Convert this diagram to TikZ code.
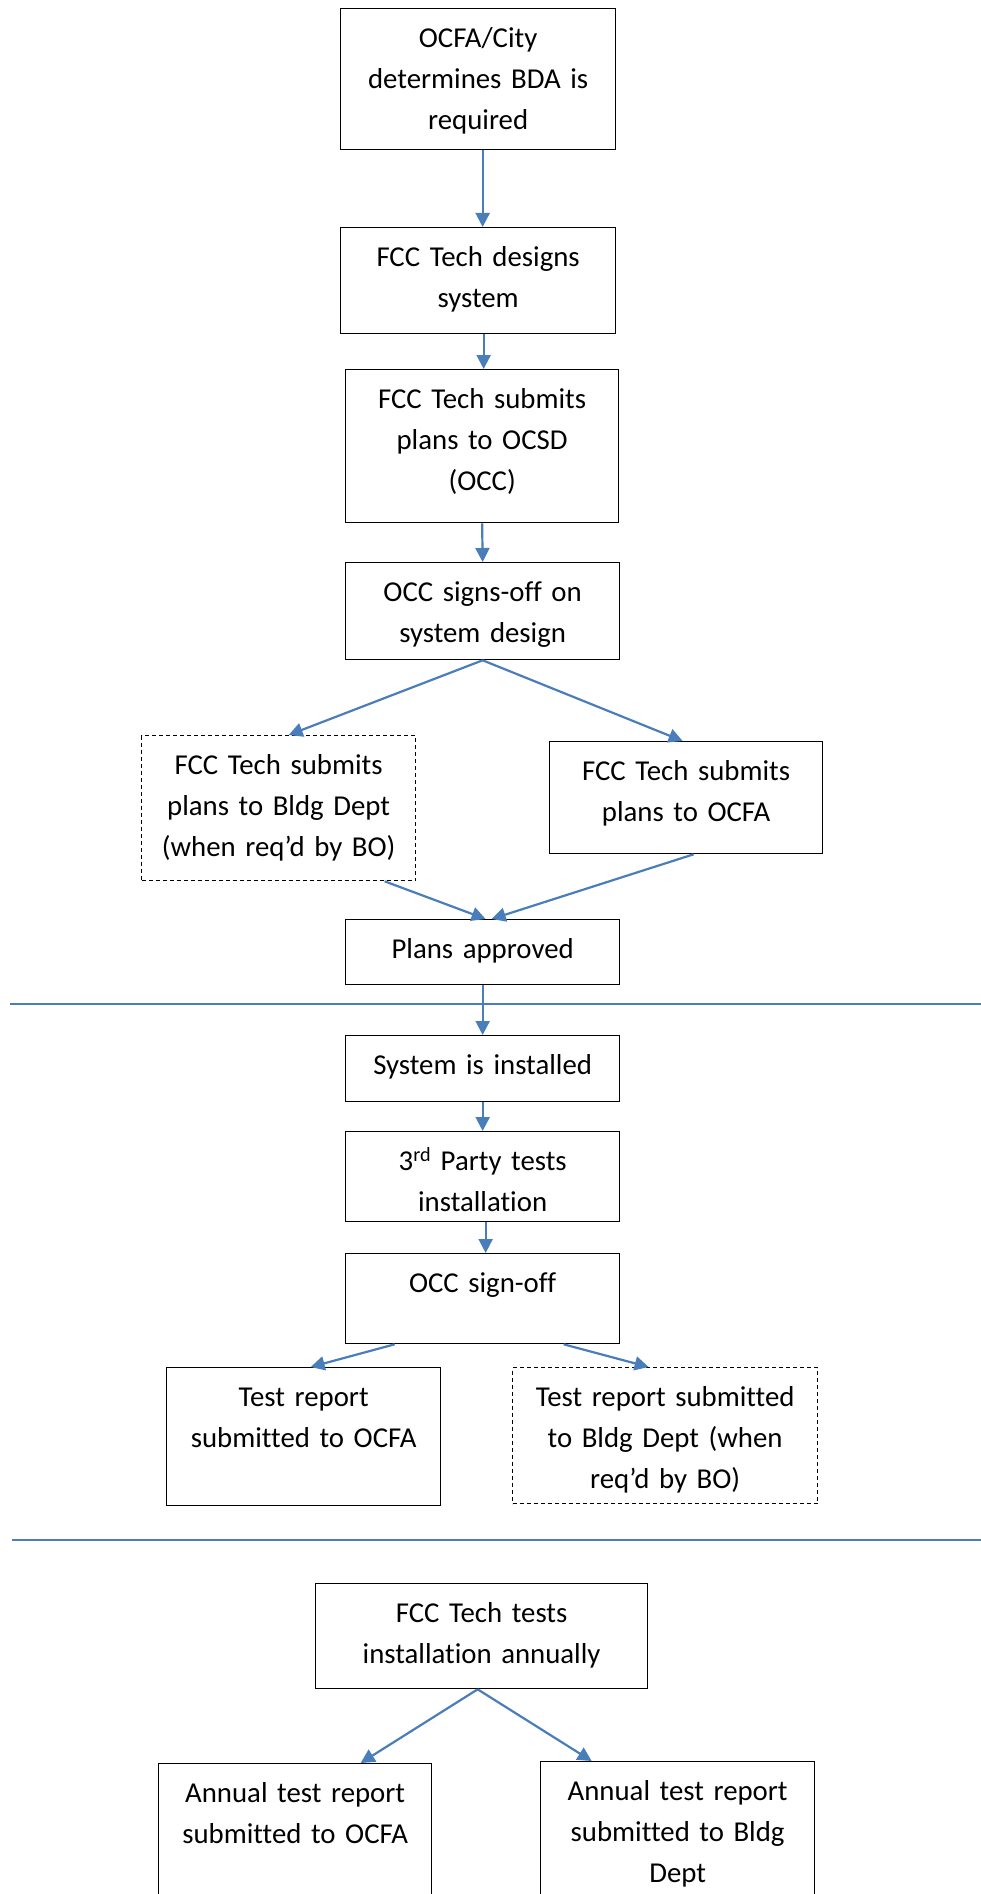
\documentclass[tikz,border=0pt]{standalone}
\usepackage{fontspec}
\newfontfamily\boxfont[Ligatures=NoCommon]{Carlito}
\usetikzlibrary{arrows.meta}
\definecolor{flowblue}{RGB}{74,126,187}
\begin{document}
\begin{tikzpicture}[x=1pt,y=-1pt,
  stage/.style={draw,line width=1.3pt,anchor=north west,inner xsep=0pt,
    inner ysep=0pt,align=center,text height=39pt,
    font={\boxfont\fontsize{28.8}{41}\selectfont}},
  optional/.style={stage,dash pattern=on 4pt off 3pt},
  flow/.style={draw=flowblue,line width=2.2pt,
    -{Triangle[length=14pt,width=14pt]}},
  divider/.style={draw=flowblue,line width=2.2pt}]
\useasboundingbox (0,0) rectangle (981,1894);
\clip (0,0) rectangle (981,1894);

\node[stage,text width=275pt,text depth=102pt] (b1) at (340,8)
  {OCFA/City\\determines BDA is\\required};
\node[stage,text width=275pt,text depth=67pt] (b2) at (340,227)
  {FCC Tech designs\\system};
\node[stage,text width=273pt,text depth=114pt] (b3) at (345,369)
  {FCC Tech submits\\plans to OCSD\\(OCC)};
\node[stage,text width=274pt,text depth=58pt] (b4) at (345,562)
  {OCC signs-off on\\system design};
\node[optional,text width=274pt,text depth=106pt] (b5) at (141,735)
  {FCC Tech submits\\plans to Bldg Dept\\(when req’d by BO)};
\node[stage,text width=273pt,text depth=73pt] (b6) at (549,741)
  {FCC Tech submits\\plans to OCFA};
\node[stage,text width=274pt,text depth=26pt] (b7) at (345,919)
  {Plans approved};
\node[stage,text width=274pt,text depth=27pt] (b8) at (345,1035)
  {System is installed};
\node[stage,text width=274pt,text depth=51pt] (b9) at (345,1131)
  {3\textsuperscript{rd} Party tests\\installation};
\node[stage,text width=274pt,text depth=51pt] (b10) at (345,1253)
  {OCC sign-off};
\node[stage,text width=274pt,text depth=99pt] (b11) at (166,1367)
  {Test report\\submitted to OCFA};
\node[optional,text width=305pt,text depth=97pt] (b12) at (512,1367)
  {Test report submitted\\to Bldg Dept (when\\req’d by BO)};
\node[stage,text width=332pt,text depth=66pt] (b13) at (315,1583)
  {FCC Tech tests\\installation annually};
\node[stage,text width=273pt,text depth=111pt] (b14) at (158,1763)
  {Annual test report\\submitted to OCFA};
\node[stage,text width=274pt,text depth=113pt] (b15) at (540,1761)
  {Annual test report\\submitted to Bldg\\Dept};

\coordinate (cut1w) at (10,1004);
\coordinate (cut1e) at (981,1004);
\coordinate (cut2w) at (12,1540);
\coordinate (cut2e) at (981,1540);
\draw[divider] (cut1w) -- (cut1e);
\draw[divider] (cut2w) -- (cut2e);

\draw[flow] ([xshift=4.5pt]b1.south) -- ([xshift=4.5pt]b2.north);
\draw[flow] ([xshift=5.5pt]b2.south) -- ([xshift=5.5pt]b2.south |- b3.north);
\draw[flow] (b3.south) -- (b4.north);
\draw[flow] (b4.south) -- ([xshift=10pt]b5.north);
\draw[flow] (b4.south) -- ([xshift=-3.5pt]b6.north);
\draw[flow] ([xshift=106pt]b5.south) -- ([xshift=3pt]b7.north);
\draw[flow] ([xshift=7.5pt]b6.south) -- ([xshift=9pt]b7.north);
\draw[flow] (b7.south) -- (b8.north);
\draw[flow] (b8.south) -- (b9.north);
\draw[flow] ([xshift=3pt]b9.south) -- ([xshift=3pt]b10.north);
\draw[flow] ([xshift=-88pt]b10.south) -- ([xshift=7pt]b11.north);
\draw[flow] ([xshift=81pt]b10.south) -- ([xshift=-16.5pt]b12.north);
\draw[flow] ([xshift=-4pt]b13.south) -- ([xshift=65.5pt]b14.north);
\draw[flow] ([xshift=-4pt]b13.south) -- ([xshift=-86pt]b15.north);
\end{tikzpicture}
\end{document}
